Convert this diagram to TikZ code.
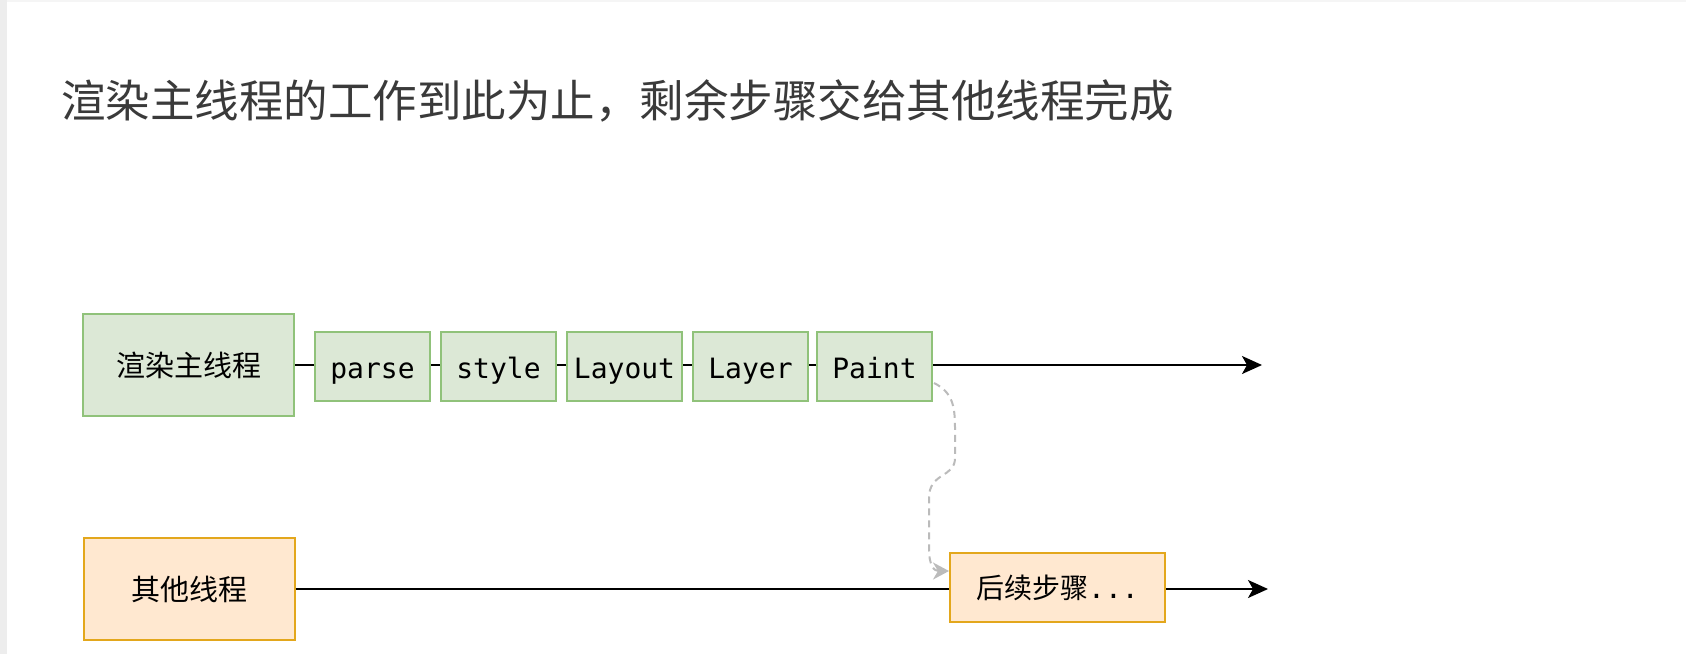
\documentclass[tikz,border=0pt]{standalone}
\usepackage{fontspec}
\newfontfamily\cjk{Noto Sans CJK SC}
\newfontfamily\mono{DejaVu Sans Mono}
\usetikzlibrary{arrows.meta}
\definecolor{gfill}{HTML}{DCE8D6}
\definecolor{gdraw}{HTML}{90C27A}
\definecolor{ofill}{HTML}{FFE8D0}
\definecolor{odraw}{HTML}{E3A71C}
\definecolor{titlecol}{HTML}{3A3A3A}
\definecolor{dashcol}{HTML}{BBBBBB}
\tikzset{
  gbig/.style={draw=gdraw, fill=gfill, line width=2pt, minimum width=211pt, minimum height=102pt, inner sep=0pt, font=\cjk\fontsize{29}{34}\selectfont},
  gstage/.style={draw=gdraw, fill=gfill, line width=2pt, minimum width=115pt, minimum height=69pt, inner sep=0pt, text height=28pt, text depth=3pt, font=\mono\fontsize{28}{32}\selectfont},
  obig/.style={draw=odraw, fill=ofill, line width=2pt, minimum width=211pt, minimum height=102pt, inner sep=0pt, font=\cjk\fontsize{29}{34}\selectfont},
  ostage/.style={draw=odraw, fill=ofill, line width=2pt, minimum width=215pt, minimum height=69pt, inner sep=0pt, font=\cjk\fontsize{28}{32}\selectfont},
  link/.style={line width=2pt, black},
  flow/.style={line width=2pt, black, -{Stealth[length=20pt, width=18pt, inset=5pt]}},
  handoff/.style={line width=2pt, dashcol, dash pattern=on 7pt off 5pt, -{Stealth[length=16pt, width=17pt, inset=5pt, fill=dashcol]}}
}
\begin{document}
\begin{tikzpicture}[x=1pt, y=-1pt]
\useasboundingbox (0,0) rectangle (1686,654);
\fill[white] (0,0) rectangle (1686,654);
\fill[black!7] (0,0) rectangle (7,654);
\fill[black!4] (7,0) rectangle (1686,1.5);

\node[anchor=west, inner sep=0pt, text=titlecol, font=\cjk\fontsize{44.5}{52}\selectfont] (title) at (61,101) {渲染主线程的工作到此为止，剩余步骤交给其他线程完成};

\node[gbig] (main) at (188.5,365) {渲染主线程};
\node[gstage] (parse) at (372.5,366) {parse};
\node[gstage] (style) at (498.5,366) {style};
\node[gstage] (layout) at (624.5,366) {Layout};
\node[gstage] (layer) at (750.5,366) {Layer};
\node[gstage] (paint) at (874.5,366) {Paint};
\coordinate (topend) at (1262,365);

\node[obig] (other) at (189,589) {其他线程};
\node[ostage] (later) at (1057.5,587.5) {后续步骤{\mono...}};
\coordinate (botend) at (1268,589);

\draw[link] (main.east |- 0,365) -- (parse.west |- 0,365);
\draw[link] (parse.east |- 0,365) -- (style.west |- 0,365);
\draw[link] (style.east |- 0,365) -- (layout.west |- 0,365);
\draw[link] (layout.east |- 0,365) -- (layer.west |- 0,365);
\draw[link] (layer.east |- 0,365) -- (paint.west |- 0,365);
\draw[flow] (paint.east |- 0,365) -- (topend);

\draw[link] (other.east |- 0,589) -- (later.west |- 0,589);
\draw[flow] (later.east |- 0,589) -- (botend);

\coordinate (hstart) at (934,383);
\coordinate (hend) at (949,571);
\draw[handoff] (hstart) .. controls (952,392) and (955,405) .. (955,428) -- (955,458)
  .. controls (955,478) and (929,472) .. (929,498) -- (929,548)
  .. controls (929,566) and (934,571) .. (hend);
\end{tikzpicture}
\end{document}
